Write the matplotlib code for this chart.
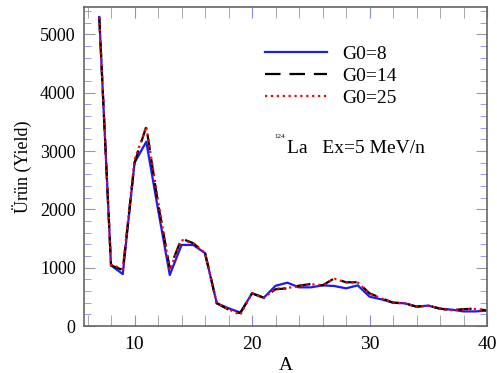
import numpy as np
import matplotlib
matplotlib.use('Agg')
import matplotlib.pyplot as plt
from matplotlib.ticker import MultipleLocator

plt.rcParams['font.family'] = ['Liberation Serif', 'DejaVu Serif']

A = np.arange(7, 41)
g0_8 = [5300, 1040, 890, 2800, 3160, 2000, 875, 1390, 1390, 1250, 390, 305, 230,
        560, 485, 690, 743, 663, 663, 697, 686, 646, 697, 503, 457, 400, 389, 332,
        350, 297, 280, 250, 250, 265]
g0_14 = [5300, 1040, 960, 2800, 3420, 2100, 990, 1500, 1420, 1250, 390, 280, 220,
         560, 485, 630, 645, 692, 720, 697, 817, 750, 750, 560, 480, 400, 389, 332,
         350, 297, 270, 290, 297, 265]
g0_25 = [5300, 1050, 980, 2850, 3420, 2150, 960, 1475, 1420, 1250, 390, 290, 190,
         560, 485, 640, 650, 690, 715, 700, 810, 750, 745, 555, 475, 400, 389, 332,
         350, 297, 270, 285, 290, 265]

fig = plt.figure(figsize=(4.97, 3.73), dpi=100)
ax = fig.add_axes([0.169, 0.126, 0.811, 0.855])

ax.plot(A, g0_8, color='#1a1aff', lw=1.6, label='G0=8')
ax.plot(A, g0_14, color='black', lw=1.6, dashes=(7, 4), label='G0=14')
ax.plot(A, g0_25, color='red', lw=1.6, ls=':', label='G0=25')

ax.set_xlim(5.7, 40)
ax.set_ylim(0, 5470)
ax.xaxis.set_major_locator(MultipleLocator(10))
ax.xaxis.set_minor_locator(MultipleLocator(2))
ax.yaxis.set_major_locator(MultipleLocator(1000))
ax.yaxis.set_minor_locator(MultipleLocator(200))

ax.tick_params(which='both', direction='in', top=True, right=True)
ax.tick_params(axis='x', labelsize=14, pad=7)
ax.tick_params(axis='y', labelsize=13, pad=6)
ax.tick_params(axis='x', which='major', length=8, color='#8888ff')
ax.tick_params(axis='x', which='minor', length=8, color='#999999')
ax.tick_params(axis='y', which='major', length=8, color='#999999')
ax.tick_params(axis='y', which='minor', length=5, color='#8888ff')
for s in ax.spines.values():
    s.set_color('#666666')
    s.set_linewidth(1.2)

ax.set_xlabel('A', fontsize=14, labelpad=3)
ax.set_ylabel('Ürün (Yield)', fontsize=13, labelpad=6)

ax.legend(loc='upper left', bbox_to_anchor=(0.533, 0.878),
          bbox_transform=fig.transFigure, frameon=False, fontsize=14,
          handlelength=3.2, handletextpad=0.8, labelspacing=0.22,
          borderpad=0, borderaxespad=0)

fig.text(274 / 497, 1 - 137 / 373, '124', fontsize=5, va='center')
fig.text(287 / 497, 1 - 148 / 373, 'La   Ex=5 MeV/n', fontsize=14, va='center')

fig.savefig('out.png', dpi=100)
